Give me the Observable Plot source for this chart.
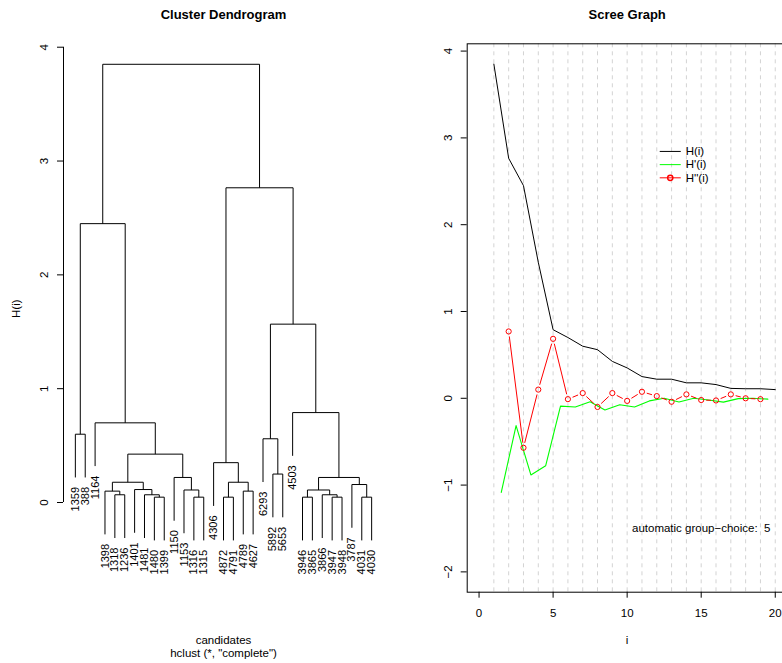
<!DOCTYPE html>
<html>
<head>
<meta charset="utf-8">
<script src="https://cdn.jsdelivr.net/npm/d3@7"></script>
<script src="https://cdn.jsdelivr.net/npm/@observablehq/plot@0.6"></script>
<style>
  html, body { margin: 0; padding: 0; background: #fff; overflow: hidden; }
  #chart { position: relative; width: 782px; height: 663px; overflow: hidden; background: #fff; }
  #chart svg { position: absolute; top: 0; max-width: none; }
</style>
</head>
<body>
<div id="chart"></div>
<script>
// ---- Dendrogram data (hclust, complete linkage) ----
// Leaf labels in plotting order, left to right
const leafLabels = ["1359","388","1164","1398","1318","1236","1401","1481","1480","1399",
  "1150","1153","1316","1315","4306","4872","4791","4789","4627","6293","5892","5653",
  "4503","3946","3865","3866","3947","3948","3787","4031","4030"];

// Merge table: negative = leaf position (1-based), positive = earlier merge row (1-based)
const mergeLeft  = [-9, -13, -16, -24, -27, -30, -5, -8, -26, -4, -18, -7, -12, 4, -29,
  10, 3, -11, 14, -21, -15, 16, -20, -1, -3, -23, 23, 24, 21, 28];
const mergeRight = [-10, -14, -17, -25, -28, -31, -6, 1, 5, 7, -19, 8, 2, 9, 6,
  12, 11, 13, 15, -22, 17, 18, 20, -2, 22, 19, 26, 25, 27, 29];
const mergeHeight = [0.047, 0.047, 0.047, 0.047, 0.047, 0.047, 0.068, 0.068, 0.068, 0.10,
  0.10, 0.114, 0.11, 0.11, 0.158, 0.178, 0.178, 0.22, 0.22, 0.25, 0.35, 0.425, 0.56,
  0.60, 0.70, 0.79, 1.567, 2.45, 2.765, 3.85];
const hang = 0.38;               // leaf drop below its merge height
const dendYTicks = [0, 1, 2, 3, 4];

// ---- Scree graph data ----
const screeI  = [1, 2, 3, 4, 5, 6, 7, 8, 9, 10, 11, 12, 13, 14, 15, 16, 17, 18, 19, 20];
const screeH  = [3.85, 2.765, 2.45, 1.567, 0.79, 0.70, 0.60, 0.56, 0.425, 0.35,
  0.25, 0.22, 0.22, 0.178, 0.178, 0.158, 0.114, 0.11, 0.11, 0.10];
const screeD1X = [1.5, 2.5, 3.5, 4.5, 5.5, 6.5, 7.5, 8.5, 9.5, 10.5, 11.5, 12.5, 13.5,
  14.5, 15.5, 16.5, 17.5, 18.5, 19.5];
const screeD1  = [-1.085, -0.315, -0.883, -0.777, -0.09, -0.10, -0.04, -0.135, -0.075,
  -0.10, -0.03, 0, -0.042, 0, -0.02, -0.044, -0.004, 0, -0.01];
const screeD2X = [2, 3, 4, 5, 6, 7, 8, 9, 10, 11, 12, 13, 14, 15, 16, 17, 18, 19];
const screeD2  = [0.77, -0.57, 0.10, 0.685, -0.01, 0.06, -0.10, 0.06, -0.03, 0.075,
  0.025, -0.04, 0.045, -0.02, -0.025, 0.045, 0.0, -0.01];
const screeXTicks = [0, 5, 10, 15, 20];
const screeYTicks = [-2, -1, 0, 1, 2, 3, 4];
const gridX = [1, 2, 3, 4, 5, 6, 7, 8, 9, 10, 11, 12, 13, 14, 15, 16, 17, 18, 19, 20];
const legendLabels = ["H(i)", "H'(i)", "H''(i)"];
const groupChoice = 5;

// ---- Layout ----
const font = "'Liberation Sans', Arial, Helvetica, sans-serif";
const H = 663, marginTop = 43.3, marginBottom = 71.3;
const black = "#000", green = "#00ff00", red = "#ff0000", gridGray = "#d3d3d3";
const intFormat = d => (d < 0 ? "\u2212" + (-d) : String(d));

// ---- Build dendrogram segments ----
const nodeX = [];
const segments = [];
const leaves = [];
function child(c) {
  return c < 0 ? {x: -c, top: null, leaf: -c} : {x: nodeX[c - 1], top: mergeHeight[c - 1], leaf: null};
}
for (let k = 0; k < mergeHeight.length; k++) {
  const h = mergeHeight[k];
  const a = child(mergeLeft[k]), b = child(mergeRight[k]);
  nodeX[k] = (a.x + b.x) / 2;
  segments.push({x1: a.x, y1: h, x2: b.x, y2: h});
  for (const c of [a, b]) {
    const bottom = c.top ?? h - hang;
    segments.push({x1: c.x, y1: h, x2: c.x, y2: bottom});
    if (c.leaf) leaves.push({x: c.x, bottom, label: leafLabels[c.leaf - 1]});
  }
}

const dendX = [-0.2, 32.2];
const dendY = [-0.788, 4.03];

const dendro = Plot.plot({
  width: 391, height: H,
  marginLeft: 63, marginRight: 8, marginTop, marginBottom,
  x: {domain: dendX, axis: null},
  y: {domain: dendY, axis: null},
  style: {fontFamily: font, fontSize: "11.5px", background: "transparent", color: black},
  marks: [
    Plot.link(segments, {x1: "x1", y1: "y1", x2: "x2", y2: "y2", stroke: black, strokeWidth: 1}),
    Plot.text(leaves, {x: "x", y: "bottom", text: "label", rotate: -90, textAnchor: "end",
      lineAnchor: "middle", dy: 9.5, fontSize: 11}),
    Plot.ruleX([dendX[0]], {y1: dendYTicks[0], y2: dendYTicks[dendYTicks.length - 1], stroke: black}),
    Plot.axisY({ticks: dendYTicks, tickFormat: intFormat, tickSize: 6, tickRotate: -90,
      tickPadding: 9.3, label: null, fontSize: 11.5}),
    Plot.text(["Cluster Dendrogram"], {text: d => d, frameAnchor: "top", lineAnchor: "bottom",
      dy: -25.3, fontWeight: "bold", fontSize: 13}),
    Plot.text(["candidates"], {text: d => d, frameAnchor: "bottom", lineAnchor: "bottom", dy: 51.6}),
    Plot.text(['hclust (*, "complete")'], {text: d => d, frameAnchor: "bottom", lineAnchor: "bottom", dy: 65}),
    Plot.text(["H(i)"], {text: d => d, frameAnchor: "left", rotate: -90, lineAnchor: "bottom", dx: -43.7})
  ]
});
dendro.style.left = "0px";

// ---- Scree graph ----
const screeW = 400, screeML = 75.7, screeMR = 4.4;
const screeX = [-0.8, 20.8];
const screeY = [-2.234, 4.084];
const pxPerX = (screeW - screeML - screeMR) / (screeX[1] - screeX[0]);
const pxPerY = (H - marginTop - marginBottom) / (screeY[1] - screeY[0]);

const hData  = screeI.map((i, k) => ({i, v: screeH[k]}));
const d1Data = screeD1X.map((i, k) => ({i, v: screeD1[k]}));
const d2Data = screeD2X.map((i, k) => ({i, v: screeD2[k]}));

// "b"-style line: segments stop short of each point marker
const gap = 5;
const redSegments = [];
for (let k = 0; k < d2Data.length - 1; k++) {
  const a = d2Data[k], b = d2Data[k + 1];
  const len = Math.hypot((b.i - a.i) * pxPerX, (b.v - a.v) * pxPerY);
  if (len <= 2 * gap) continue;
  const t = gap / len;
  redSegments.push({
    x1: a.i + (b.i - a.i) * t, y1: a.v + (b.v - a.v) * t,
    x2: b.i - (b.i - a.i) * t, y2: b.v - (b.v - a.v) * t
  });
}

// legend placement (data units)
const legX0 = 12.2, legLen = 1.42, legTextX = 13.95, legTop = 2.844, legStep = 0.152;
const legend = legendLabels.map((label, k) => ({label, y: legTop - k * legStep,
  color: [black, green, red][k], dash: k === 1 ? "4,3" : null}));

const scree = Plot.plot({
  width: screeW, height: H,
  marginLeft: screeML, marginRight: screeMR, marginTop, marginBottom,
  x: {domain: screeX, axis: null},
  y: {domain: screeY, axis: null},
  style: {fontFamily: font, fontSize: "11.5px", background: "transparent", color: black},
  marks: [
    Plot.ruleX(gridX, {stroke: gridGray, strokeDasharray: "4,4", strokeWidth: 1}),
    Plot.frame({stroke: black, strokeWidth: 1}),
    Plot.line(hData, {x: "i", y: "v", stroke: black, strokeWidth: 1}),
    Plot.line(d1Data, {x: "i", y: "v", stroke: green, strokeWidth: 1.1}),
    Plot.link(redSegments, {x1: "x1", y1: "y1", x2: "x2", y2: "y2", stroke: red, strokeWidth: 1}),
    Plot.dot(d2Data, {x: "i", y: "v", r: 2.6, stroke: red, fill: "none", strokeWidth: 1}),
    // legend
    Plot.link(legend, {x1: legX0, x2: legX0 + legLen, y1: "y", y2: "y", stroke: "color",
      strokeDasharray: "dash", strokeWidth: 1}),
    Plot.dot(legend.filter((d, k) => k === 2), {x: legX0 + legLen / 2, y: "y", r: 2.6,
      stroke: red, fill: "none"}),
    Plot.text(legend, {x: legTextX, y: "y", text: "label", textAnchor: "start", lineAnchor: "middle"}),
    Plot.text([`automatic group\u2212choice:\u00a0 ${groupChoice}`], {text: d => d, x: 15, y: -1.5,
      lineAnchor: "middle"}),
    Plot.axisX({ticks: screeXTicks, tickFormat: intFormat, tickSize: 6, tickPadding: 10.8,
      label: null, fontSize: 11.5}),
    Plot.axisY({ticks: screeYTicks, tickFormat: intFormat, tickSize: 6, tickRotate: -90,
      tickPadding: 9.3, label: null, fontSize: 11.5}),
    Plot.text(["Scree Graph"], {text: d => d, frameAnchor: "top", lineAnchor: "bottom",
      dy: -25.3, fontWeight: "bold", fontSize: 13}),
    Plot.text(["i"], {text: d => d, frameAnchor: "bottom", lineAnchor: "bottom", dy: 51.6})
  ]
});
scree.style.left = "391px";

const chart = document.getElementById("chart");
chart.appendChild(dendro);
chart.appendChild(scree);
</script>
</body>
</html>
